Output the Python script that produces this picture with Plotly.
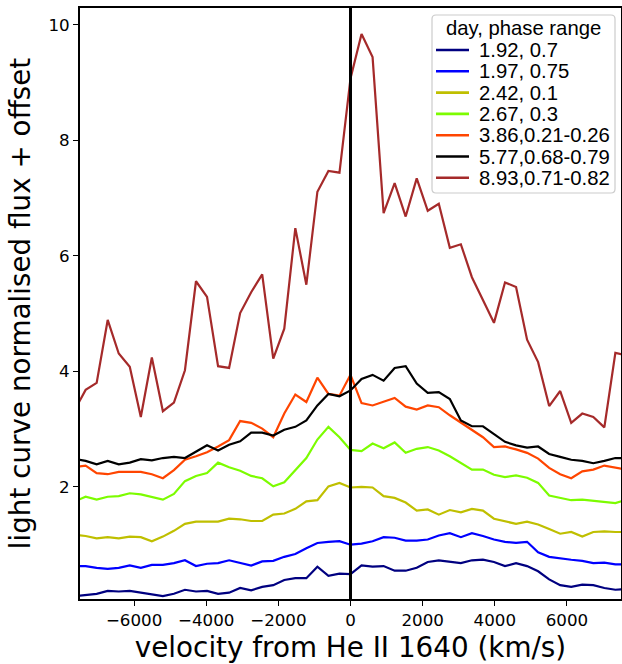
import plotly.graph_objects as go

# ---------------- data ----------------
velocity = [-7650, -7344, -7038, -6732, -6426, -6120, -5814, -5508, -5202, -4896,
            -4590, -4284, -3978, -3672, -3366, -3060, -2754, -2448, -2142, -1836,
            -1530, -1224, -918, -612, -306, 0, 306, 612, 918, 1224,
            1530, 1836, 2142, 2448, 2754, 3060, 3366, 3672, 3978, 4284,
            4590, 4896, 5202, 5508, 5814, 6120, 6426, 6732, 7038, 7344, 7650]

labels = ["1.92, 0.7", "1.97, 0.75", "2.42, 0.1", "2.67, 0.3",
          "3.86,0.21-0.26", "5.77,0.68-0.79", "8.93,0.71-0.82"]
colors = ["#000080", "#0000ff", "#bfbf00", "#7cfc00", "#ff4500", "#000000", "#a52a2a"]

flux_d192 = [0.11, 0.13, 0.15, 0.20, 0.19, 0.20, 0.17, 0.14, 0.11, 0.15, 0.22, 0.19, 0.20,
             0.15, 0.17, 0.25, 0.21, 0.27, 0.30, 0.39, 0.42, 0.42, 0.62, 0.46, 0.50, 0.49,
             0.64, 0.62, 0.63, 0.55, 0.55, 0.60, 0.70, 0.73, 0.70, 0.68, 0.73, 0.74, 0.70,
             0.63, 0.68, 0.63, 0.54, 0.40, 0.30, 0.27, 0.31, 0.30, 0.25, 0.22, 0.23]
flux_d197 = [0.63, 0.63, 0.60, 0.58, 0.60, 0.64, 0.60, 0.65, 0.65, 0.68, 0.73, 0.63, 0.67,
             0.68, 0.73, 0.68, 0.64, 0.71, 0.72, 0.79, 0.84, 0.94, 1.03, 1.05, 1.06, 1.00,
             1.02, 1.06, 1.13, 1.12, 1.07, 1.07, 1.09, 1.16, 1.20, 1.13, 1.20, 1.15, 1.09,
             1.05, 1.03, 1.05, 0.87, 0.79, 0.76, 0.74, 0.72, 0.68, 0.69, 0.66, 0.66]
flux_d242 = [1.17, 1.15, 1.11, 1.13, 1.11, 1.14, 1.13, 1.06, 1.14, 1.24, 1.36, 1.40, 1.40,
             1.40, 1.45, 1.44, 1.41, 1.41, 1.52, 1.54, 1.62, 1.75, 1.77, 2.01, 2.07, 1.99,
             2.00, 1.99, 1.84, 1.81, 1.73, 1.59, 1.61, 1.52, 1.60, 1.56, 1.62, 1.59, 1.45,
             1.40, 1.36, 1.40, 1.35, 1.27, 1.19, 1.22, 1.14, 1.22, 1.23, 1.22, 1.22]
flux_d267 = [1.75, 1.83, 1.78, 1.83, 1.84, 1.89, 1.87, 1.83, 1.78, 1.88, 2.10, 2.19, 2.24,
             2.42, 2.34, 2.28, 2.19, 2.15, 2.01, 2.08, 2.29, 2.50, 2.82, 3.04, 2.86, 2.64,
             2.62, 2.75, 2.67, 2.77, 2.59, 2.66, 2.69, 2.63, 2.53, 2.41, 2.30, 2.30, 2.21,
             2.17, 2.20, 2.16, 2.07, 1.85, 1.81, 1.77, 1.78, 1.76, 1.74, 1.72, 1.78]
flux_d386 = [2.34, 2.37, 2.24, 2.22, 2.26, 2.26, 2.26, 2.22, 2.15, 2.29, 2.47, 2.53, 2.60,
             2.70, 2.81, 3.14, 3.11, 3.01, 2.86, 3.27, 3.60, 3.47, 3.89, 3.61, 3.58, 3.94,
             3.45, 3.41, 3.48, 3.54, 3.39, 3.34, 3.41, 3.38, 3.24, 3.11, 2.99, 2.86, 2.69,
             2.70, 2.65, 2.59, 2.49, 2.33, 2.22, 2.15, 2.27, 2.30, 2.37, 2.33, 2.30]
flux_d577 = [2.49, 2.45, 2.39, 2.45, 2.39, 2.42, 2.48, 2.46, 2.50, 2.52, 2.50, 2.61, 2.72,
             2.63, 2.73, 2.79, 2.94, 2.94, 2.89, 2.99, 3.04, 3.15, 3.41, 3.61, 3.57, 3.67,
             3.87, 3.94, 3.84, 4.06, 4.09, 3.79, 3.63, 3.64, 3.52, 3.15, 3.05, 3.05, 2.92,
             2.78, 2.72, 2.68, 2.70, 2.57, 2.52, 2.47, 2.45, 2.41, 2.45, 2.50, 2.50]
flux_d893 = [3.33, 3.68, 3.80, 4.89, 4.31, 4.08, 3.21, 4.24, 3.31, 3.46, 4.02, 5.56, 5.29,
             4.09, 4.06, 5.01, 5.37, 5.68, 4.22, 4.74, 6.48, 5.50, 7.11, 7.47, 7.44, 9.07,
             9.84, 9.44, 6.74, 7.26, 6.68, 7.34, 6.78, 6.90, 6.14, 6.20, 5.63, 5.23, 4.84,
             5.54, 5.46, 4.55, 4.16, 3.40, 3.66, 3.11, 3.27, 3.21, 3.03, 4.32, 4.28]

series = [flux_d192, flux_d197, flux_d242, flux_d267, flux_d386, flux_d577, flux_d893]

line_velocity = 0  # He II 1640 rest velocity
x_ticks = [-6000, -4000, -2000, 0, 2000, 4000, 6000]
y_ticks = [2, 4, 6, 8, 10]
legend_title = "day, phase range"

# ---------------- layout geometry (pixels) ----------------
W, H = 622, 664
ML, MR, MT, MB = 80, 1, 8, 65
PW, PH = W - ML - MR, H - MT - MB


def px(xp):
    return (xp - ML) / PW


def py(yp):
    return (H - MB - yp) / PH


fig = go.Figure()
for name, ys, col in zip(labels, series, colors):
    fig.add_trace(go.Scatter(x=velocity, y=ys, mode="lines", name=name,
                             line=dict(color=col, width=2.2), showlegend=False,
                             hoverinfo="x+y+name"))

fig.add_vline(x=line_velocity, line_color="black", line_width=3, layer="above")

tickfont = dict(family="DejaVu Sans", size=16.7, color="black")
titlefont = dict(family="DejaVu Sans", size=27.8, color="black")
axis_common = dict(showgrid=False, zeroline=False, showline=True, linecolor="black",
                   linewidth=2, mirror=True, ticks="outside", ticklen=5, tickwidth=1.1,
                   tickcolor="black", tickfont=tickfont)

fig.update_layout(
    width=W, height=H,
    margin=dict(l=ML, r=MR, t=MT, b=MB, autoexpand=False),
    paper_bgcolor="white", plot_bgcolor="white",
    showlegend=False,
    xaxis=dict(range=[-7500, 7500], tickvals=x_ticks,
               title=dict(text="velocity from He II 1640 (km/s)", font=titlefont, standoff=8),
               **axis_common),
    yaxis=dict(range=[0.06, 10.29], tickvals=y_ticks,
               title=dict(text="light curve normalised flux + offset", font=titlefont, standoff=10),
               **axis_common),
)

# ---------------- custom legend (matplotlib-like compact box) ----------------
bx0, bx1, by0, by1, r = 432, 615, 15, 193, 4
path = (f"M {px(bx0 + r)} {py(by0)} L {px(bx1 - r)} {py(by0)} "
        f"Q {px(bx1)} {py(by0)} {px(bx1)} {py(by0 + r)} "
        f"L {px(bx1)} {py(by1 - r)} Q {px(bx1)} {py(by1)} {px(bx1 - r)} {py(by1)} "
        f"L {px(bx0 + r)} {py(by1)} Q {px(bx0)} {py(by1)} {px(bx0)} {py(by1 - r)} "
        f"L {px(bx0)} {py(by0 + r)} Q {px(bx0)} {py(by0)} {px(bx0 + r)} {py(by0)} Z")
fig.add_shape(type="path", path=path, xref="paper", yref="paper",
              line=dict(color="#cccccc", width=1.2), fillcolor="rgba(255,255,255,0.8)",
              layer="above")

legfont = dict(family="Liberation Sans, Arial, sans-serif", size=20.3, color="black")
fig.add_annotation(text=legend_title, x=px(523.5), y=py(28), xref="paper", yref="paper",
                   xanchor="center", yanchor="middle", showarrow=False, font=legfont)
for i, (name, col) in enumerate(zip(labels, colors)):
    yc = 50 + 21.3 * i
    fig.add_shape(type="line", xref="paper", yref="paper", x0=px(436), x1=px(469),
                  y0=py(yc), y1=py(yc), line=dict(color=col, width=2.6), layer="above")
    fig.add_annotation(text=name, x=px(477), y=py(yc), xref="paper", yref="paper",
                       xanchor="left", yanchor="middle", showarrow=False, font=legfont)

fig.write_html("out.html",
               config={"displayModeBar": False},
               post_script="document.body.style.margin='0';"
                           "document.body.style.overflow='hidden';")
